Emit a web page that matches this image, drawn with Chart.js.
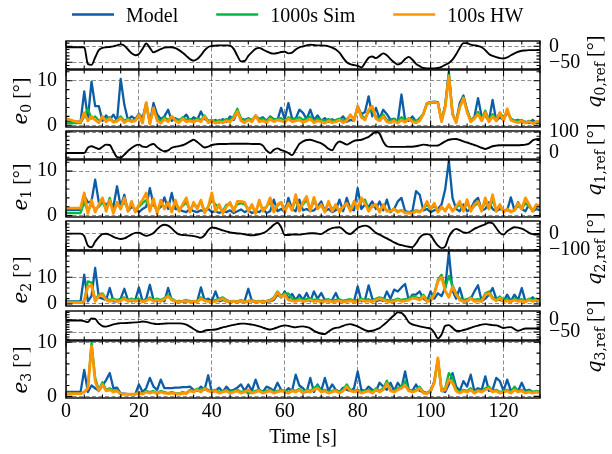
<!DOCTYPE html>
<html>
<head>
<meta charset="utf-8">
<script src="https://cdn.jsdelivr.net/npm/chart.js@4.4.1/dist/chart.umd.min.js"></script>
<style>
  html, body { margin: 0; padding: 0; background: #fff; }
  #fig { position: relative; width: 612px; height: 454px; }
  #fig canvas { position: absolute; left: 0; top: 0; }
</style>
</head>
<body>
<div id="fig"></div>
<script>
// one sample per second, 0..130 s
const time = Array.from({ length: 131 }, (_, i) => i);
const timeTicks = [0, 20, 40, 60, 80, 100, 120];

const seriesNames = ["Model", "1000s Sim", "100s HW"];
const seriesColors = ["#0C5DA5", "#00B945", "#FF9500"];
const seriesWidths = [2.3, 2.3, 2.8];

// joint reference trajectories [deg]
const q0Ref = [
  -3,-3,-3,-3,-3,-3,-55,-58,-35,-12,
  -5,-3,-2,0,3,6,2,-10,-22,-28,
  -24,-8,9,-5,-19,-14,-9,-4,-3,-3,
  -6,-12,-20,-30,-40,-45,-40,-28,-13,-2,
  1,2,3,3,3,2,-8,-30,-47,-46,
  -30,-18,-8,-5,-10,-16,-21,-23,-21,-18,
  -17,-22,-20,-10,-3,0,3,5,4,3,
  3,2,0,-4,-10,-20,-36,-50,-56,-59,
  -61,-66,-52,-36,-32,-37,-30,-22,-28,-40,
  -50,-57,-52,-40,-33,-42,-55,-62,-68,-69,
  -69,-69,-68,-64,-58,-52,-42,-25,-5,10,
  10,5,3,1,-3,-12,-24,-30,-34,-37,
  -38,-35,-28,-22,-17,-14,-13,-12,-12,-12,-12
];
const q1Ref = [
  0,0,0,0,0,0,25,32,26,19,
  30,40,38,8,-20,-22,-8,10,24,35,
  40,30,28,38,43,28,15,8,12,25,
  30,33,37,45,55,63,52,38,26,30,
  38,41,43,43,43,44,44,44,44,44,
  44,43,43,43,35,12,0,15,22,14,
  8,0,-10,15,43,55,62,63,58,52,
  46,35,20,13,40,55,48,40,48,58,
  61,63,70,77,90,100,92,55,32,29,
  29,29,29,29,30,30,32,36,40,38,
  35,35,36,45,55,63,66,67,62,55,
  50,44,38,32,25,19,25,32,35,37,
  37,37,37,37,37,38,40,45,60,66,67
];
const q2Ref = [
  0,0,0,0,0,-15,-75,-85,-50,-22,
  -3,-1,-8,-20,-28,-33,-30,-18,-5,5,
  6,-4,-14,-8,4,28,48,56,50,33,
  10,-5,-8,-10,-12,-15,-20,-26,-10,22,
  38,35,28,20,14,8,4,1,0,-4,
  -8,-10,-8,-4,3,15,35,55,68,40,
  -8,-8,-5,-5,-6,-3,0,3,3,0,
  -3,10,25,35,38,40,25,5,-2,15,
  35,45,50,44,25,5,-6,-18,-30,-42,
  -55,-65,-72,-78,-82,-85,-60,-25,-6,-3,
  -10,-45,-75,-90,-80,-20,15,30,20,8,
  5,15,30,40,50,58,70,65,35,5,
  -6,15,30,40,38,31,20,5,-3,-6,-6
];
const q3Ref = [
  -3,-3,-3,-3,-3,-6,-10,5,3,-15,
  -26,-28,-24,-19,-16,-14,-14,-13,-12,-11,
  -10,-7,-9,-13,-16,-18,-17,-16,-15,-15,
  -15,-15,-16,-20,-28,-38,-46,-50,-45,-42,
  -41,-40,-36,-31,-28,-24,-21,-18,-16,-16,
  -18,-20,-23,-27,-32,-37,-40,-36,-31,-26,
  -23,-25,-29,-31,-28,-27,-30,-35,-45,-52,
  -57,-58,-48,-38,-33,-31,-25,-20,-18,-22,
  -27,-35,-42,-47,-45,-40,-34,-22,-10,5,
  18,30,28,13,-10,-19,-23,-27,-30,-33,
  -36,-52,-76,-60,-25,-22,-33,-45,-46,-42,
  -38,-33,-28,-24,-20,-18,-20,-22,-23,-28,
  -34,-31,-30,-38,-45,-40,-36,-36,-36,-36,-36
];

// tracking errors [deg]
const e0Model = [
  0.9,0.9,0.8,0.8,0.8,7.6,1.5,9.8,4.3,4.3,
  1.0,2.2,1.2,2.4,1.0,10.4,4.6,1.2,2.0,1.4,
  2.6,1.6,5.0,0.5,5.0,2.4,1.4,2.0,3.5,1.0,
  1.6,1.2,1.5,2.4,1.0,1.8,1.2,3.1,1.4,1.0,
  0.8,1.2,0.6,1.4,0.8,2.0,1.2,3.0,1.5,1.2,
  1.6,1.0,2.2,1.4,1.8,1.0,2.0,1.4,1.2,3.9,
  1.4,5.0,1.5,1.5,3.5,2.8,1.4,3.5,1.2,2.2,
  1.0,1.6,0.8,1.4,0.8,1.2,2.0,0.8,1.2,1.0,
  4.3,2.5,3.0,6.5,2.0,3.9,1.5,3.5,2.5,1.2,
  1.5,0.8,6.9,1.2,1.0,2.0,0.8,1.6,2.5,5.0,
  5.2,5.3,5.2,1.0,4.5,12.0,2.5,0.8,5.0,6.7,
  3.5,1.0,1.8,6.1,2.0,2.2,1.0,5.7,1.0,1.8,
  1.2,3.0,1.5,1.0,1.2,0.6,0.8,0.5,1.2,0.5,0.6
];
const e0Sim = [
  0.5,0.5,0.5,0.5,0.5,2.0,3.7,1.5,2.0,1.0,
  1.5,1.2,1.8,0.8,1.2,2.0,1.0,1.5,1.0,1.2,
  2.0,1.0,4.5,0.6,3.5,1.5,1.0,1.8,1.2,2.0,
  1.4,1.0,1.8,1.2,1.4,1.0,1.6,1.2,2.2,1.0,
  1.2,0.8,1.2,1.0,1.4,1.2,2.0,3.7,1.5,1.0,
  1.5,1.2,2.0,1.2,1.5,1.0,1.8,1.2,1.5,1.6,
  1.0,1.8,1.4,1.5,1.8,1.2,1.5,2.0,1.0,1.5,
  1.2,1.0,1.4,1.0,1.2,1.5,1.0,1.4,2.2,1.5,
  3.8,2.2,1.6,3.0,3.5,2.0,1.5,2.4,1.2,1.0,
  1.4,1.0,1.8,1.2,1.6,1.2,1.0,1.4,2.6,4.8,
  5.0,5.1,5.0,1.0,4.3,11.3,2.8,0.8,4.2,6.3,
  3.2,1.2,1.8,3.0,1.5,3.3,1.2,2.5,1.5,2.8,
  1.8,3.2,1.5,1.0,1.0,1.2,0.6,1.0,0.5,0.8,0.8
];
const e0Hw = [
  1.5,1.3,1.0,0.8,0.7,2.8,1.0,2.0,1.2,0.6,
  2.0,0.8,1.5,0.7,0.9,1.6,0.6,1.2,0.8,1.0,
  2.4,0.5,5.1,0.3,3.9,1.0,0.5,1.4,0.8,2.0,
  1.0,0.6,1.5,0.8,1.0,0.7,1.2,0.8,2.0,0.6,
  1.0,0.5,0.8,0.6,1.0,0.8,1.6,3.1,1.0,0.6,
  1.2,0.8,2.2,0.8,1.0,0.6,1.4,0.8,1.2,1.0,
  0.7,1.5,0.8,1.0,1.2,0.7,1.0,1.4,0.6,1.0,
  0.8,0.5,1.0,0.6,0.8,1.2,0.6,1.0,2.4,1.0,
  4.3,1.8,1.2,3.5,4.3,1.5,1.0,2.0,0.8,0.6,
  1.0,0.5,1.2,0.7,1.5,0.8,0.6,1.0,2.5,4.9,
  5.1,5.2,5.0,0.8,4.0,11.0,2.6,0.6,4.0,6.1,
  3.0,0.8,1.5,2.5,1.0,2.8,0.8,2.0,1.0,2.8,
  1.0,3.7,1.2,0.8,0.6,1.0,0.5,0.8,0.4,0.8,1.0
];

const e1Model = [
  1.3,1.3,1.3,1.3,1.3,4.5,3.0,3.2,8.1,3.0,
  3.2,2.5,3.0,2.0,6.6,2.0,4.7,1.0,2.0,1.5,
  0.8,1.5,2.0,6.2,2.5,1.2,2.0,4.1,1.5,5.1,
  1.5,1.5,1.0,0.8,1.5,1.0,0.8,1.2,1.0,1.5,
  0.8,1.0,0.6,1.0,0.8,1.2,0.6,1.0,1.4,0.8,
  1.2,0.6,1.0,0.8,1.5,0.6,1.0,3.6,1.0,1.5,
  0.8,4.0,1.5,1.0,3.6,1.2,1.5,1.0,1.2,2.0,
  3.2,1.0,1.5,0.8,1.2,3.6,1.0,4.0,1.5,1.2,
  6.2,1.5,2.5,2.0,3.2,1.5,3.2,1.2,3.6,0.8,
  1.5,3.2,4.0,1.0,0.8,1.0,5.5,4.7,1.2,1.5,
  0.8,1.2,1.5,2.5,5.9,12.3,4.0,1.5,1.0,2.5,
  1.0,1.5,3.2,4.0,1.2,1.5,3.0,1.5,1.0,1.5,
  1.2,1.2,4.1,1.2,3.0,1.5,1.0,2.5,1.0,1.5,1.2
];
const e1Sim = [
  0.6,0.6,0.6,0.6,0.6,3.0,1.0,2.5,1.5,2.0,
  3.0,1.5,4.0,1.0,2.5,2.0,3.0,1.5,2.5,1.2,
  2.0,2.8,3.5,1.5,3.0,1.0,2.8,2.0,2.5,1.2,
  3.0,1.5,2.2,3.0,1.2,2.5,2.0,3.0,1.0,2.0,
  3.5,2.5,2.0,1.0,2.5,2.5,1.5,2.5,2.8,2.5,
  1.5,2.0,1.0,2.8,1.5,2.0,3.0,1.5,2.2,3.0,
  1.2,2.5,1.5,3.5,1.5,2.5,3.5,1.5,3.2,2.0,
  2.2,1.2,2.8,1.5,2.2,1.2,2.0,2.5,1.5,2.8,
  2.0,3.2,3.6,1.5,2.0,2.2,1.2,2.0,1.2,1.0,
  1.5,1.0,1.2,0.8,0.8,0.8,1.2,1.0,1.5,2.5,
  1.5,2.2,1.0,1.8,1.2,2.2,1.2,1.8,2.5,1.2,
  3.0,1.2,2.2,2.8,1.2,3.2,1.5,3.5,1.2,2.2,
  1.0,1.5,1.0,1.2,2.2,1.5,2.8,2.0,1.2,2.0,2.2
];
const e1Hw = [
  1.7,1.7,1.7,1.7,1.7,5.1,0.5,3.5,0.8,2.5,
  4.0,1.0,3.5,0.5,3.0,1.5,4.0,1.0,3.2,0.8,
  2.5,3.5,5.1,1.0,3.8,0.5,3.5,1.5,3.0,0.8,
  3.5,1.0,2.5,4.0,0.8,3.0,1.5,3.5,0.6,2.0,
  5.1,1.0,2.5,0.5,2.0,3.0,1.0,3.2,3.2,3.0,
  1.0,2.5,0.5,3.5,1.0,2.0,4.0,0.8,2.5,3.0,
  0.8,2.8,1.2,4.7,1.0,3.0,4.3,1.0,4.1,1.5,
  2.5,0.8,3.2,1.0,2.5,0.8,2.0,2.8,1.0,3.2,
  1.5,4.0,2.8,1.0,2.2,2.5,0.8,2.5,1.0,1.0,
  1.5,0.8,1.2,0.6,0.6,0.5,1.0,0.8,1.5,3.2,
  1.5,2.8,0.8,2.0,1.0,2.5,1.0,2.0,3.2,1.0,
  3.6,1.0,2.5,3.2,1.0,4.0,1.5,4.7,1.0,2.5,
  0.8,1.5,0.8,1.2,2.8,1.5,4.0,2.5,1.0,2.5,2.0
];

const e2Model = [
  1.0,1.0,1.0,1.0,1.0,11.0,1.0,3.0,13.5,2.5,
  2.0,1.5,6.0,1.0,1.0,2.0,5.7,1.5,1.0,1.5,
  6.2,1.0,2.0,7.2,1.5,1.0,1.5,1.0,6.0,1.5,
  1.0,1.2,0.8,1.0,1.2,0.8,1.0,6.2,1.5,2.0,
  1.0,4.7,1.0,1.5,1.0,0.8,1.0,0.8,1.0,1.2,
  5.7,1.0,0.8,1.0,1.2,0.8,1.0,1.5,3.5,2.5,
  4.7,2.0,3.8,1.5,3.5,1.5,4.1,1.0,4.7,2.0,
  4.1,1.5,1.0,1.5,4.1,1.0,1.2,1.0,1.5,1.0,
  6.6,1.0,1.5,7.0,2.0,1.0,1.5,1.2,4.7,2.0,
  5.4,4.7,6.2,7.5,1.5,3.5,3.5,4.7,2.0,1.0,
  4.7,2.0,4.0,3.0,6.0,19.5,5.0,2.0,6.0,1.0,
  1.0,2.0,4.7,7.0,1.0,2.0,3.5,6.0,2.0,1.5,
  1.0,3.5,1.0,3.5,1.5,6.0,1.0,1.5,2.5,1.0,1.0
];
const e2Sim = [
  0.8,0.8,0.8,0.8,0.8,1.2,8.5,8.0,1.5,3.5,
  4.0,2.0,1.5,2.0,1.5,1.8,2.5,1.5,2.0,1.5,
  2.0,1.2,1.5,2.5,1.5,2.0,1.5,2.2,3.3,2.0,
  1.2,1.0,1.2,1.5,1.0,1.2,1.0,2.5,1.5,1.2,
  1.0,1.5,2.0,2.5,1.5,1.0,1.2,1.0,1.5,1.0,
  1.2,1.5,1.0,1.2,1.0,1.2,1.5,2.5,4.7,3.0,
  4.0,4.0,2.0,1.5,2.0,1.5,1.8,2.0,1.5,1.8,
  1.2,1.5,1.8,1.2,1.5,1.8,1.2,1.5,1.8,1.2,
  1.5,2.0,1.5,1.8,1.2,2.0,2.5,2.0,1.5,1.2,
  1.5,2.0,1.5,1.8,2.0,2.8,2.5,2.0,3.5,1.5,
  1.8,4.0,9.0,11.0,6.0,10.5,7.0,4.0,2.0,1.5,
  1.8,2.5,1.5,1.8,1.5,4.0,4.7,2.5,1.8,2.8,
  1.5,1.8,1.2,2.0,1.5,1.8,1.2,2.0,1.5,2.0,1.5
];
const e2Hw = [
  0.5,0.5,0.5,0.5,0.5,1.0,6.5,7.0,1.0,3.0,
  3.5,1.5,1.0,1.5,1.0,1.2,2.0,1.0,1.5,1.0,
  1.5,0.8,1.2,2.0,1.0,1.5,1.0,1.8,2.9,1.5,
  1.0,0.8,1.0,1.2,0.8,1.0,0.8,2.0,1.2,1.0,
  0.8,1.0,1.5,2.0,1.0,0.8,1.0,0.8,1.2,0.8,
  1.0,1.2,0.8,1.0,0.8,1.0,1.2,2.0,4.4,2.5,
  3.5,1.5,1.2,1.0,1.5,1.0,1.2,1.5,1.0,1.2,
  0.8,1.0,1.2,0.8,1.0,1.2,0.8,1.0,1.2,0.8,
  1.0,1.5,1.0,1.2,0.8,1.5,2.0,1.5,1.0,0.8,
  1.0,1.5,1.0,1.2,1.5,2.2,2.0,1.5,2.9,1.0,
  1.2,3.5,8.5,10.0,5.0,2.5,6.5,3.5,1.5,1.0,
  1.2,2.2,1.0,1.2,1.0,3.5,4.0,2.0,1.2,2.2,
  1.0,1.2,0.8,1.5,1.0,1.2,0.8,1.5,1.0,1.5,1.0
];

const e3Model = [
  0.8,0.8,0.8,0.8,0.8,4.9,0.8,2.0,1.5,1.0,
  2.0,3.0,4.3,1.5,1.6,0.5,0.5,0.4,0.4,0.4,
  2.2,0.8,1.5,3.4,1.8,1.2,3.1,1.5,1.5,1.5,
  1.6,1.6,1.7,1.7,1.8,1.2,1.0,1.8,1.2,3.9,
  0.8,1.0,1.6,0.8,1.8,1.0,1.2,1.6,2.2,1.0,
  2.2,1.0,3.1,1.2,0.8,1.8,1.5,1.0,2.5,1.2,
  0.8,1.5,1.0,4.0,2.0,1.5,0.8,3.4,0.8,2.2,
  1.0,3.4,1.0,2.2,1.2,0.8,1.6,1.2,1.0,1.5,
  4.6,1.2,1.0,1.8,1.2,1.0,2.5,1.8,1.2,2.5,
  1.0,2.5,1.5,4.6,1.2,1.0,2.2,1.0,0.8,0.6,
  0.8,2.8,6.8,1.0,0.8,2.2,4.3,1.8,1.0,2.8,
  1.8,4.0,1.0,1.5,1.2,3.7,1.0,1.2,3.4,2.8,
  1.0,3.1,1.0,1.5,1.0,2.5,1.0,1.2,0.8,0.8,0.8
];
const e3Sim = [
  0.5,0.5,0.5,0.5,0.5,0.8,1.5,10.0,3.4,1.2,
  2.6,1.2,1.5,1.0,1.2,0.4,0.4,0.4,0.4,0.4,
  0.8,0.5,1.0,0.8,1.0,0.6,1.0,0.8,0.6,0.8,
  0.6,0.5,0.8,0.6,1.2,1.0,1.4,1.0,1.6,1.2,
  1.0,1.2,0.8,1.0,1.2,0.8,1.0,1.2,0.8,1.0,
  0.5,0.8,1.0,1.2,0.8,1.0,1.2,0.8,1.0,1.2,
  1.0,0.8,1.2,1.0,1.4,0.8,1.2,1.0,1.5,2.0,
  1.0,1.2,0.8,1.0,1.2,0.8,1.2,2.2,1.2,1.0,
  1.2,0.8,1.0,1.2,0.8,1.5,1.0,1.5,2.9,1.2,
  1.0,1.5,1.8,2.8,1.2,1.0,1.2,1.8,0.8,0.6,
  1.2,2.5,6.8,1.2,1.5,4.3,3.5,1.2,0.8,1.2,
  1.0,1.5,0.8,1.2,1.0,1.5,1.8,1.0,1.2,0.8,
  1.0,1.2,0.8,1.8,1.0,1.2,0.8,1.0,0.8,1.0,0.8
];
const e3Hw = [
  0.5,0.5,0.5,0.5,0.5,0.8,1.5,9.3,2.8,1.0,
  2.2,1.0,1.2,0.8,1.0,0.4,0.4,0.4,0.4,0.4,
  0.6,0.4,0.8,0.6,0.8,0.5,0.8,0.6,0.5,0.6,
  0.5,0.4,0.6,0.5,1.0,0.8,1.2,0.8,1.4,1.0,
  0.8,1.0,0.6,0.8,1.0,0.6,0.8,1.0,0.6,0.8,
  1.2,0.6,0.8,1.0,0.6,0.8,1.0,0.6,0.8,1.0,
  0.8,0.6,1.0,0.8,1.2,0.6,1.0,0.8,1.2,1.5,
  0.8,1.0,0.6,0.8,1.0,0.6,1.0,1.8,1.0,0.8,
  1.0,0.6,0.8,1.0,0.6,1.2,0.8,1.2,2.4,1.0,
  0.8,1.2,1.5,2.0,1.0,0.8,1.0,1.5,0.6,0.5,
  1.0,2.5,7.1,1.0,1.2,3.1,2.5,1.0,0.6,1.0,
  0.8,1.2,0.6,1.0,0.8,1.2,1.5,0.8,1.0,0.6,
  0.8,1.0,0.6,1.2,0.8,1.0,0.6,0.8,0.6,0.8,0.6
];

const qRefs = [q0Ref, q1Ref, q2Ref, q3Ref];
const errors = [
  [e0Model, e0Sim, e0Hw],
  [e1Model, e1Sim, e1Hw],
  [e2Model, e2Sim, e2Hw],
  [e3Model, e3Sim, e3Hw]
];

Chart.defaults.font.family = "'Liberation Serif', 'Times New Roman', serif";
Chart.defaults.font.size = 20;
Chart.defaults.color = "#000";

const W = 612, H = 454;
const gridColor = "rgba(0, 0, 0, 0.45)";

// stacked panels: a reference panel then an error panel for every joint
const panels = [
  { kind: "q", joint: 0, top: 41, bottom: 69, min: -71, max: 16.6, major: [0, -50], minor: 10, titleY: 72 },
  { kind: "e", joint: 0, top: 70, bottom: 127, min: -0.38, max: 12.4, major: [0, 10], minor: 2, titleY: 101 },
  { kind: "q", joint: 1, top: 131, bottom: 159, min: -28.6, max: 104.8, major: [0, 100], minor: 20, titleY: 160 },
  { kind: "e", joint: 1, top: 160, bottom: 217, min: -0.3, max: 12.5, major: [0, 10], minor: 2, titleY: 187 },
  { kind: "q", joint: 2, top: 221, bottom: 250, min: -102, max: 79, major: [0, -100], minor: 20, titleY: 249 },
  { kind: "e", joint: 2, top: 251, bottom: 306, min: -0.75, max: 19.85, major: [0, 10], minor: 2, titleY: 280 },
  { kind: "q", joint: 3, top: 311, bottom: 340, min: -82.5, max: 35.4, major: [0, -50], minor: 10, titleY: 337 },
  { kind: "e", joint: 3, top: 341, bottom: 398, min: -0.31, max: 10.24, major: [0, 10], minor: 2, titleY: 370 }
];

function axisTitle(sym, sub) {
  return [
    { text: sym, font: "italic 20px 'DejaVu Serif'", dy: 0 },
    { text: sub, font: "14px 'DejaVu Serif'", dy: 4 },
    { text: " [°]", font: "20px 'Liberation Serif'", dy: 0 }
  ];
}

// shared legend above the first panel: line sample, then label
function drawLegend(ctx) {
  ctx.save();
  ctx.font = "20px 'Liberation Serif'";
  ctx.textBaseline = "alphabetic";
  let x = 72;
  seriesNames.forEach((name, k) => {
    ctx.strokeStyle = seriesColors[k];
    ctx.lineWidth = 2.6;
    ctx.beginPath();
    ctx.moveTo(x, 14.5);
    ctx.lineTo(x + 42, 14.5);
    ctx.stroke();
    ctx.fillStyle = "#000";
    ctx.fillText(name, x + 54, 21.5);
    x += 54 + ctx.measureText(name).width + 38;
  });
  ctx.restore();
}

// box, inward ticks on all four sides and the rotated axis title
const framePlugin = {
  id: "frame",
  afterDraw(chart, args, opts) {
    if (!opts.major) return;
    const { ctx, chartArea: a } = chart;
    const xs = chart.scales.x, ys = chart.scales.y;
    ctx.save();
    ctx.strokeStyle = "#000";
    ctx.lineWidth = 1.1;
    ctx.beginPath();
    for (let v = 0; v <= 130; v += 5) {
      const px = xs.getPixelForValue(v);
      const len = v % 20 === 0 ? 6.5 : 3.5;
      ctx.moveTo(px, a.top); ctx.lineTo(px, a.top + len);
      ctx.moveTo(px, a.bottom); ctx.lineTo(px, a.bottom - len);
    }
    for (let v = Math.ceil(ys.min / opts.minor) * opts.minor; v <= ys.max; v += opts.minor) {
      const py = ys.getPixelForValue(v);
      const len = opts.major.includes(v) ? 6.5 : 3.5;
      ctx.moveTo(a.left, py); ctx.lineTo(a.left + len, py);
      ctx.moveTo(a.right, py); ctx.lineTo(a.right - len, py);
    }
    ctx.stroke();
    ctx.lineWidth = 1.4;
    ctx.strokeRect(a.left, a.top, a.right - a.left, a.bottom - a.top);

    ctx.translate(opts.titleX, opts.titleY);
    ctx.rotate(-Math.PI / 2);
    ctx.fillStyle = "#000";
    ctx.textBaseline = "alphabetic";
    let total = 0;
    opts.title.forEach(p => { ctx.font = p.font; total += ctx.measureText(p.text).width; });
    let x = -total / 2;
    opts.title.forEach(p => {
      ctx.font = p.font;
      ctx.fillText(p.text, x, 5 + p.dy);
      x += ctx.measureText(p.text).width;
    });
    ctx.restore();

    if (opts.legend) drawLegend(ctx);
  }
};
Chart.register(framePlugin);

const fig = document.getElementById("fig");

panels.forEach((p, i) => {
  const canvas = document.createElement("canvas");
  canvas.width = W;
  canvas.height = H;
  fig.appendChild(canvas);

  const isRef = p.kind === "q";
  const last = i === panels.length - 1;

  const datasets = isRef
    ? [{
        data: qRefs[p.joint], borderColor: "#000", borderWidth: 1.9,
        cubicInterpolationMode: "monotone"
      }]
    : errors[p.joint].map((d, k) => ({
        label: seriesNames[k], data: d, borderColor: seriesColors[k],
        borderWidth: seriesWidths[k], borderJoinStyle: "round",
        order: 3 - k
      }));

  new Chart(canvas, {
    type: "line",
    data: { labels: time, datasets },
    options: {
      responsive: false,
      animation: false,
      events: [],
      layout: {
        padding: {
          left: isRef ? 66 : 0,
          right: isRef ? 0 : 72,
          top: p.top,
          bottom: last ? 0 : H - p.bottom
        }
      },
      elements: { point: { radius: 0 }, line: { tension: 0 } },
      scales: {
        x: {
          type: "linear", min: 0, max: 130,
          afterBuildTicks: s => { s.ticks = timeTicks.map(v => ({ value: v })); },
          afterFit: s => { s.height = last ? 56 : 0; },
          grid: { color: gridColor, lineWidth: 1, drawTicks: false },
          border: { display: false, dash: [4, 2.5] },
          ticks: { display: last, padding: 2, maxRotation: 0, autoSkip: false },
          title: { display: last, text: "Time [s]", padding: { top: 0, bottom: 4 } }
        },
        y: {
          type: "linear", min: p.min, max: p.max,
          position: isRef ? "right" : "left",
          afterBuildTicks: s => { s.ticks = p.major.map(v => ({ value: v })); },
          afterFit: s => { s.width = isRef ? 72 : 66; },
          grid: { color: gridColor, lineWidth: 1, drawTicks: false },
          border: { display: false, dash: [4, 2.5] },
          ticks: { padding: 9, callback: v => String(v).replace("-", "\u2212") }
        }
      },
      plugins: {
        legend: { display: false },
        tooltip: { enabled: false },
        frame: {
          major: p.major,
          minor: p.minor,
          legend: i === 0,
          titleX: isRef ? 596 : 22,
          titleY: p.titleY,
          title: isRef ? axisTitle("q", p.joint + ",ref") : axisTitle("e", String(p.joint))
        }
      }
    }
  });
});
</script>
</body>
</html>
